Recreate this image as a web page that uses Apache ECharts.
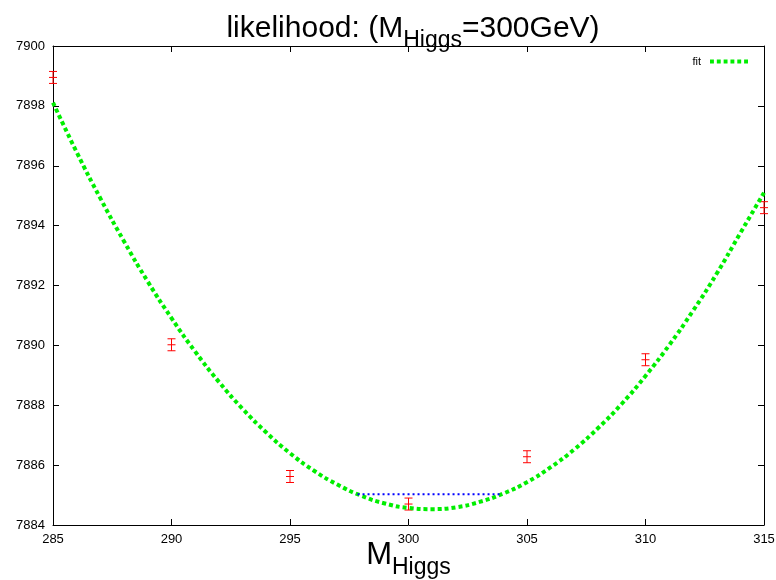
<!DOCTYPE html>
<html>
<head>
<meta charset="utf-8">
<script src="https://cdn.jsdelivr.net/npm/echarts@6/dist/echarts.min.js"></script>
<style>html,body{margin:0;padding:0;background:#fff}#c{width:776px;height:580px}</style>
</head>
<body>
<div id="c"></div>
<script>
// Measured points (M_Higgs, -log likelihood, error)
var massPoints = [285, 290, 295, 300, 305, 310, 315];
var likeValues = [7898.95, 7890.02, 7885.62, 7884.70, 7886.28, 7889.52, 7894.60];
var likeErrors = [0.2, 0.2, 0.2, 0.2, 0.2, 0.2, 0.2];
// Fit curve
var fitMass = [285,286,287,288,289,290,291,292,293,294,295,296,297,298,299,300,301,302,303,304,305,306,307,308,309,310,311,312,313,314,315];
var fitValues = [7898.11,7896.45,7894.91,7893.47,7892.13,7890.91,7889.79,7888.78,7887.88,7887.09,7886.40,7885.82,7885.35,7884.98,7884.72,7884.57,7884.53,7884.59,7884.77,7885.05,7885.43,7885.93,7886.53,7887.24,7888.05,7888.98,7890.01,7891.15,7892.39,7893.75,7895.10];
// Interval line (delta = 0.5)
var intervalMass = [297.85, 303.95];
var intervalValues = [7885.03, 7885.03];
// Axis ticks
var xTicks = [285, 290, 295, 300, 305, 310, 315];
var yTicks = [7884, 7886, 7888, 7890, 7892, 7894, 7896, 7898, 7900];

var fitData = fitMass.map(function (m, i) { return [m, fitValues[i]]; });
var intervalData = intervalMass.map(function (m, i) { return [m, intervalValues[i]]; });
var errData = massPoints.map(function (m, i) { return [m, likeValues[i], likeErrors[i]]; });

var chart = echarts.init(document.getElementById('c'), null, {renderer: 'canvas'});
var font = 'Liberation Sans, Arial, sans-serif';
var axisCommon = {
  axisLine: {show: true, lineStyle: {color: '#000', width: 1}},
  axisTick: {show: true, inside: true, length: 6, lineStyle: {color: '#000'}},
  splitLine: {show: false}
};
chart.setOption({
  animation: false,
  backgroundColor: '#fff',
  title: {
    text: '{a|likelihood: (M}{s|Higgs}{a|=300GeV)}',
    left: 408, textAlign: 'center', top: 3,
    textStyle: {
      fontWeight: 'normal',
      rich: {
        a: {fontFamily: font, fontSize: 30, fontWeight: 'normal', color: '#000', lineHeight: 36, verticalAlign: 'bottom'},
        s: {fontFamily: font, fontSize: 23, fontWeight: 'normal', color: '#000', lineHeight: 36, verticalAlign: 'bottom', padding: [0, 0, -8, 0]}
      }
    }
  },
  legend: {
    show: true, right: 23, top: 51, itemGap: 0,
    icon: 'path://M0,0L4,0L4,4L0,4ZM7,0L11,0L11,4L7,4ZM14,0L18,0L18,4L14,4ZM21,0L25,0L25,4L21,4ZM28,0L32,0L32,4L28,4ZM35,0L39,0L39,4L35,4Z',
    itemWidth: 38, itemHeight: 4,
    data: [{name: 'fit', itemStyle: {color: '#00ee00'}}],
    textStyle: {fontFamily: font, fontSize: 11, color: '#000', padding: [0, 4, 0, 0]},
    align: 'right'
  },
  grid: {left: 53, right: 12, top: 46, bottom: 55, containLabel: false, outerBoundsMode: 'none'},
  xAxis: [
    Object.assign({}, axisCommon, {
      type: 'value', min: 285, max: 315, interval: 5, position: 'bottom',
      axisLabel: {fontFamily: font, fontSize: 13, color: '#000', margin: 8},
      name: '{a|M}{s|Higgs}', nameLocation: 'middle', nameGap: 14, nameMoveOverlap: false,
      nameTextStyle: {
        rich: {
          a: {fontFamily: font, fontSize: 31, color: '#000', lineHeight: 32, verticalAlign: 'bottom'},
          s: {fontFamily: font, fontSize: 23, color: '#000', lineHeight: 32, verticalAlign: 'bottom', padding: [0, 0, -8, 0]}
        }
      }
    }),
    Object.assign({}, axisCommon, {
      type: 'value', min: 285, max: 315, interval: 5, position: 'top',
      axisLabel: {show: false}
    })
  ],
  yAxis: [
    Object.assign({}, axisCommon, {
      type: 'value', min: 7884, max: 7900, interval: 2, position: 'left',
      axisLabel: {fontFamily: font, fontSize: 13, color: '#000', margin: 8,
        formatter: function (v) { return yTicks.indexOf(v) >= 0 ? String(v) : ''; }}
    }),
    Object.assign({}, axisCommon, {
      type: 'value', min: 7884, max: 7900, interval: 2, position: 'right',
      axisLabel: {show: false}
    })
  ],
  series: [
    {
      name: 'errors', type: 'custom', xAxisIndex: 0, yAxisIndex: 0, clip: false, z: 3,
      data: errData,
      renderItem: function (params, api) {
        var x = api.value(0), y = api.value(1), e = api.value(2);
        var hi = api.coord([x, y + e]);
        var lo = api.coord([x, y - e]);
        var mid = api.coord([x, y]);
        var w = 4;
        var st = {stroke: '#ff0000', lineWidth: 1};
        return {
          type: 'group',
          children: [
            {type: 'line', shape: {x1: hi[0], y1: hi[1], x2: lo[0], y2: lo[1]}, style: st},
            {type: 'line', shape: {x1: hi[0] - w, y1: hi[1], x2: hi[0] + w, y2: hi[1]}, style: st},
            {type: 'line', shape: {x1: lo[0] - w, y1: lo[1], x2: lo[0] + w, y2: lo[1]}, style: st},
            {type: 'line', shape: {x1: mid[0] - w, y1: mid[1], x2: mid[0] + w, y2: mid[1]}, style: st}
          ]
        };
      }
    },
    {
      name: 'fit', type: 'line', data: fitData, smooth: true, showSymbol: false, symbol: 'none',
      clip: true, z: 4,
      lineStyle: {color: '#00ee00', width: 4, type: [4, 3]},
      itemStyle: {color: '#00ee00'}
    },
    {
      name: 'interval', type: 'line', data: intervalData, showSymbol: false, symbol: 'none', z: 4,
      lineStyle: {color: '#0000ff', width: 2, type: [2, 3]}
    }
  ]
});
</script>
</body>
</html>
